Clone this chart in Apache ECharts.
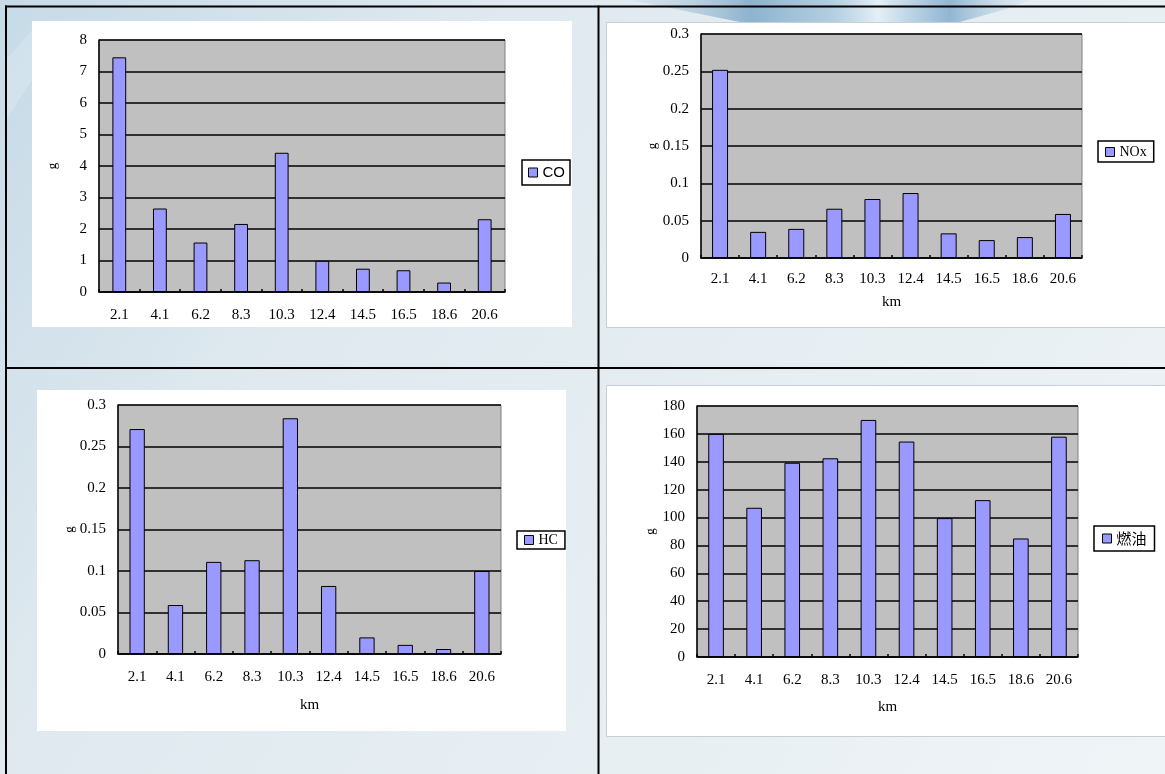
<!DOCTYPE html>
<html>
<head>
<meta charset="utf-8">
<script src="https://cdn.jsdelivr.net/npm/echarts@6/dist/echarts.min.js"></script>
<style>
  html, body { margin: 0; padding: 0; background: #E8EFF3; }
  #chart { width: 1165px; height: 774px; }
</style>
</head>
<body>
<div id="chart"></div>
<script>
// Distance markers (km) shared by all four panels
const km = ['2.1', '4.1', '6.2', '8.3', '10.3', '12.4', '14.5', '16.5', '18.6', '20.6'];

// Emissions per distance (g)
const co   = [7.45, 2.65, 1.57, 2.16, 4.42, 0.99, 0.74, 0.69, 0.30, 2.31];
const nox  = [0.252, 0.035, 0.039, 0.066, 0.079, 0.087, 0.033, 0.024, 0.028, 0.059];
const hc   = [0.271, 0.059, 0.111, 0.113, 0.284, 0.082, 0.020, 0.011, 0.006, 0.100];
const fuel = [160, 107, 139.3, 142.5, 170, 154.5, 99.6, 112.5, 85, 158];

// Y-axis scales
const coAxis   = { min: 0, max: 8,   interval: 1 };
const noxAxis  = { min: 0, max: 0.3, interval: 0.05 };
const hcAxis   = { min: 0, max: 0.3, interval: 0.05 };
const fuelAxis = { min: 0, max: 180, interval: 20 };

const SERIF = '"Liberation Serif", "Times New Roman", serif';
const SANS = '"Liberation Sans", Arial, sans-serif';
const CJK = '"Noto Sans CJK TC", "Noto Sans CJK SC", sans-serif';

const panels = [
  { name: 'CO',  data: co,   y: coAxis,   grid: { left: 99,  top: 40,  width: 406, height: 252 }, barWidth: '34%', labelMargin: 16, kmName: '',   nameGap: 0,
    legend: { left: 522, top: 160, padding: [5, 5, 5, 6], font: SANS, size: 15 } },
  { name: 'NOx', data: nox,  y: noxAxis,  grid: { left: 701, top: 34,  width: 381, height: 224 }, barWidth: '42%', labelMargin: 14, kmName: 'km', nameGap: 37,
    legend: { left: 1098, top: 141, padding: [4, 7, 3, 7], font: SERIF, size: 14 } },
  { name: 'HC',  data: hc,   y: hcAxis,   grid: { left: 118, top: 405, width: 383, height: 249 }, barWidth: '40%', labelMargin: 16, kmName: 'km', nameGap: 44,
    legend: { left: 517, top: 531, padding: [2, 7, 2, 7], font: SERIF, size: 14 } },
  { name: '燃油', data: fuel, y: fuelAxis, grid: { left: 697, top: 406, width: 381, height: 251 }, barWidth: '41%', labelMargin: 16, kmName: 'km', nameGap: 43,
    legend: { left: 1094, top: 526, padding: [5, 8, 5, 8], font: CJK, size: 15 } }
];

// Page decoration: backdrop, white chart boxes, table rules
const graphics = [
  { type: 'rect', z: -10, shape: { x: 0, y: 0, width: 1165, height: 774 },
    style: { fill: new echarts.graphic.LinearGradient(0, 0, 1, 1, [
      { offset: 0, color: '#C6DAE7' }, { offset: 0.3, color: '#DFE9EF' }, { offset: 1, color: '#EFF4F7' }]) } },
  { type: 'polygon', z: -9, shape: { points: [[630, 0], [1030, 0], [1010, 8], [960, 22], [740, 22], [690, 12]] },
    style: { fill: new echarts.graphic.LinearGradient(0, 0, 1, 0, [
      { offset: 0, color: 'rgba(170,200,218,0.15)' }, { offset: 0.3, color: 'rgba(120,165,198,0.8)' },
      { offset: 0.5, color: 'rgba(160,195,218,0.75)' }, { offset: 0.62, color: 'rgba(228,240,246,0.9)' },
      { offset: 0.8, color: 'rgba(125,168,202,0.8)' }, { offset: 1, color: 'rgba(195,218,232,0.2)' }]) } },
  { type: 'polygon', z: -9, shape: { points: [[6, 60], [32, 30], [32, 80], [6, 120]] },
    style: { fill: 'rgba(255,255,255,0.18)' } },
  { type: 'rect', z: -8, shape: { x: 32, y: 21, width: 540, height: 306 }, style: { fill: '#FFFFFF' } },
  { type: 'rect', z: -8, shape: { x: 606.5, y: 22.5, width: 560, height: 305 }, style: { fill: '#FFFFFF', stroke: '#C9CED2', lineWidth: 1 } },
  { type: 'rect', z: -8, shape: { x: 37, y: 390, width: 529, height: 341 }, style: { fill: '#FFFFFF' } },
  { type: 'rect', z: -8, shape: { x: 606.5, y: 385.5, width: 560, height: 351 }, style: { fill: '#FFFFFF', stroke: '#C9CED2', lineWidth: 1 } },
  { type: 'line', z: 100, shape: { x1: 5, y1: 6.5, x2: 1165, y2: 6.5 }, style: { stroke: '#000', lineWidth: 2 } },
  { type: 'line', z: 100, shape: { x1: 6, y1: 5.5, x2: 6, y2: 774 }, style: { stroke: '#000', lineWidth: 2 } },
  { type: 'line', z: 100, shape: { x1: 5, y1: 368, x2: 1165, y2: 368 }, style: { stroke: '#000', lineWidth: 2 } },
  { type: 'line', z: 100, shape: { x1: 598.5, y1: 5.5, x2: 598.5, y2: 774 }, style: { stroke: '#000', lineWidth: 2 } }
];

const option = {
  animation: false,
  graphic: { elements: graphics },
  grid: panels.map(p => Object.assign({
    show: true, backgroundColor: '#C0C0C0', borderColor: '#808080', borderWidth: 1
  }, p.grid)),
  legend: panels.map(p => ({
    data: [p.name], left: p.legend.left, top: p.legend.top, orient: 'horizontal',
    icon: 'rect', itemWidth: 9, itemHeight: 9, itemGap: 0,
    padding: p.legend.padding, borderColor: '#000', borderWidth: 1.5, borderRadius: 0,
    backgroundColor: '#FFFFFF', selectedMode: false,
    itemStyle: { color: '#9999FF', borderColor: '#000', borderWidth: 1 },
    textStyle: { fontFamily: p.legend.font, fontSize: p.legend.size, color: '#000' }
  })),
  xAxis: panels.map((p, i) => ({
    type: 'category', gridIndex: i, data: km,
    name: p.kmName, nameLocation: 'middle', nameGap: p.nameGap,
    nameTextStyle: { fontFamily: SERIF, fontSize: 15, color: '#000' },
    axisLine: { show: true, lineStyle: { color: '#000', width: 1.5 } },
    axisTick: { show: true, inside: true, length: 3, alignWithLabel: false, lineStyle: { color: '#000', width: 1.5 } },
    axisLabel: { margin: p.labelMargin, fontFamily: SERIF, fontSize: 15, color: '#000', interval: 0 },
    splitLine: { show: false }
  })),
  yAxis: panels.map((p, i) => ({
    type: 'value', gridIndex: i, min: p.y.min, max: p.y.max, interval: p.y.interval,
    name: 'g', nameLocation: 'middle', nameGap: 40, nameRotate: 90,
    nameTextStyle: { fontFamily: SERIF, fontSize: 13, color: '#000' },
    axisLine: { show: true, lineStyle: { color: '#000', width: 1.5 } },
    axisTick: { show: false },
    axisLabel: { margin: 12, fontFamily: SERIF, fontSize: 15, color: '#000' },
    splitLine: { show: true, lineStyle: { color: '#000', width: 1.5 } }
  })),
  series: panels.map((p, i) => ({
    type: 'bar', name: p.name, xAxisIndex: i, yAxisIndex: i, data: p.data,
    barWidth: p.barWidth,
    itemStyle: { color: '#9999FF', borderColor: '#000', borderWidth: 1 }
  }))
};

const chart = echarts.init(document.getElementById('chart'), null, { renderer: 'canvas' });
chart.setOption(option);
</script>
</body>
</html>
